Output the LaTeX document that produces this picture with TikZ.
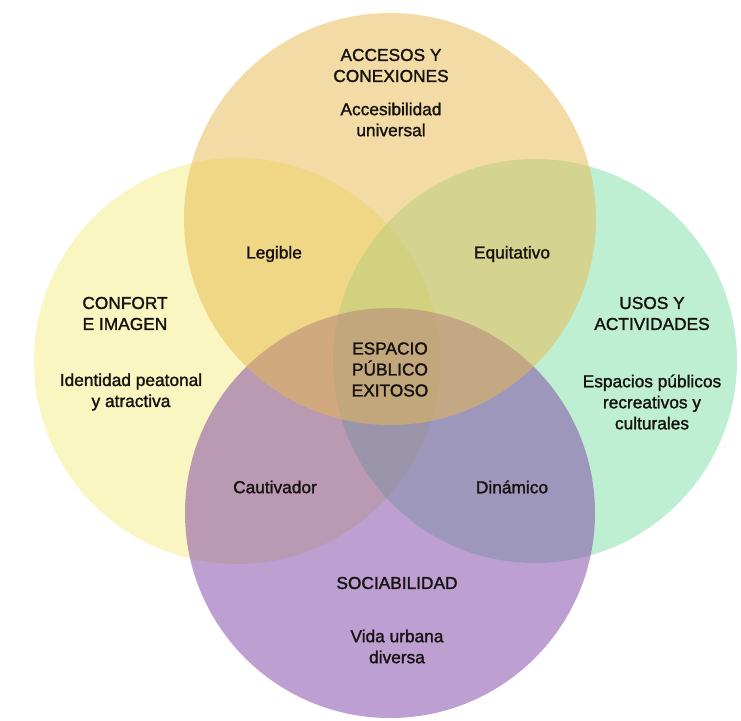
\documentclass[tikz,border=0pt]{standalone}
\usepackage{fontspec}
\setmainfont{Liberation Sans}
\newfontfamily\lblfont{Liberation Sans}[FakeBold=1.5]
\definecolor{cyel}{RGB}{245,239,133}
\definecolor{cgrn}{RGB}{129,225,167}
\definecolor{cpur}{RGB}{124,64,166}
\definecolor{corg}{RGB}{233,185,77}
\definecolor{ctxt}{RGB}{22,18,16}
\begin{document}
\begin{tikzpicture}[x=1pt,y=-1pt,
  lbl/.style={align=center, inner sep=0pt, text=ctxt, font=\lblfont\fontsize{17.3}{21}\selectfont},
  venn/.style={fill opacity=0.5}]
\useasboundingbox (0,0) rectangle (741,720);
\fill[white] (0,0) rectangle (741,720);
% circles: yellow, green, purple, orange (stacking order)
\fill[cyel, venn] (237,361) circle[radius=203];
\fill[cgrn, venn] (535,361) circle[radius=202];
\fill[cpur, venn] (390,513) circle[radius=205];
\fill[corg, venn] (390,219) circle[radius=206];
% labels
\node[lbl] (acc) at (391,65.5) {ACCESOS Y\\CONEXIONES};
\node[lbl] (accd) at (391,119.5) {Accesibilidad\\universal};
\node[lbl] (leg) at (274,254) {Legible};
\node[lbl] (equ) at (512,254) {Equitativo};
\node[lbl] (conf) at (125,313.5) {CONFORT\\E IMAGEN};
\node[lbl] (confd) at (131,392) {Identidad peatonal\\y atractiva};
\node[lbl] (esp) at (390,369.5) {ESPACIO\\PÚBLICO\\EXITOSO};
\node[lbl] (usos) at (652,313.5) {USOS Y\\ACTIVIDADES};
\node[lbl] (usosd) at (652,402) {Espacios públicos\\recreativos y\\culturales};
\node[lbl] (cau) at (275,487) {Cautivador};
\node[lbl] (din) at (512,487) {Dinámico};
\node[lbl] (soc) at (397,583) {SOCIABILIDAD};
\node[lbl] (socd) at (397,646.5) {Vida urbana\\diversa};
\end{tikzpicture}
\end{document}
